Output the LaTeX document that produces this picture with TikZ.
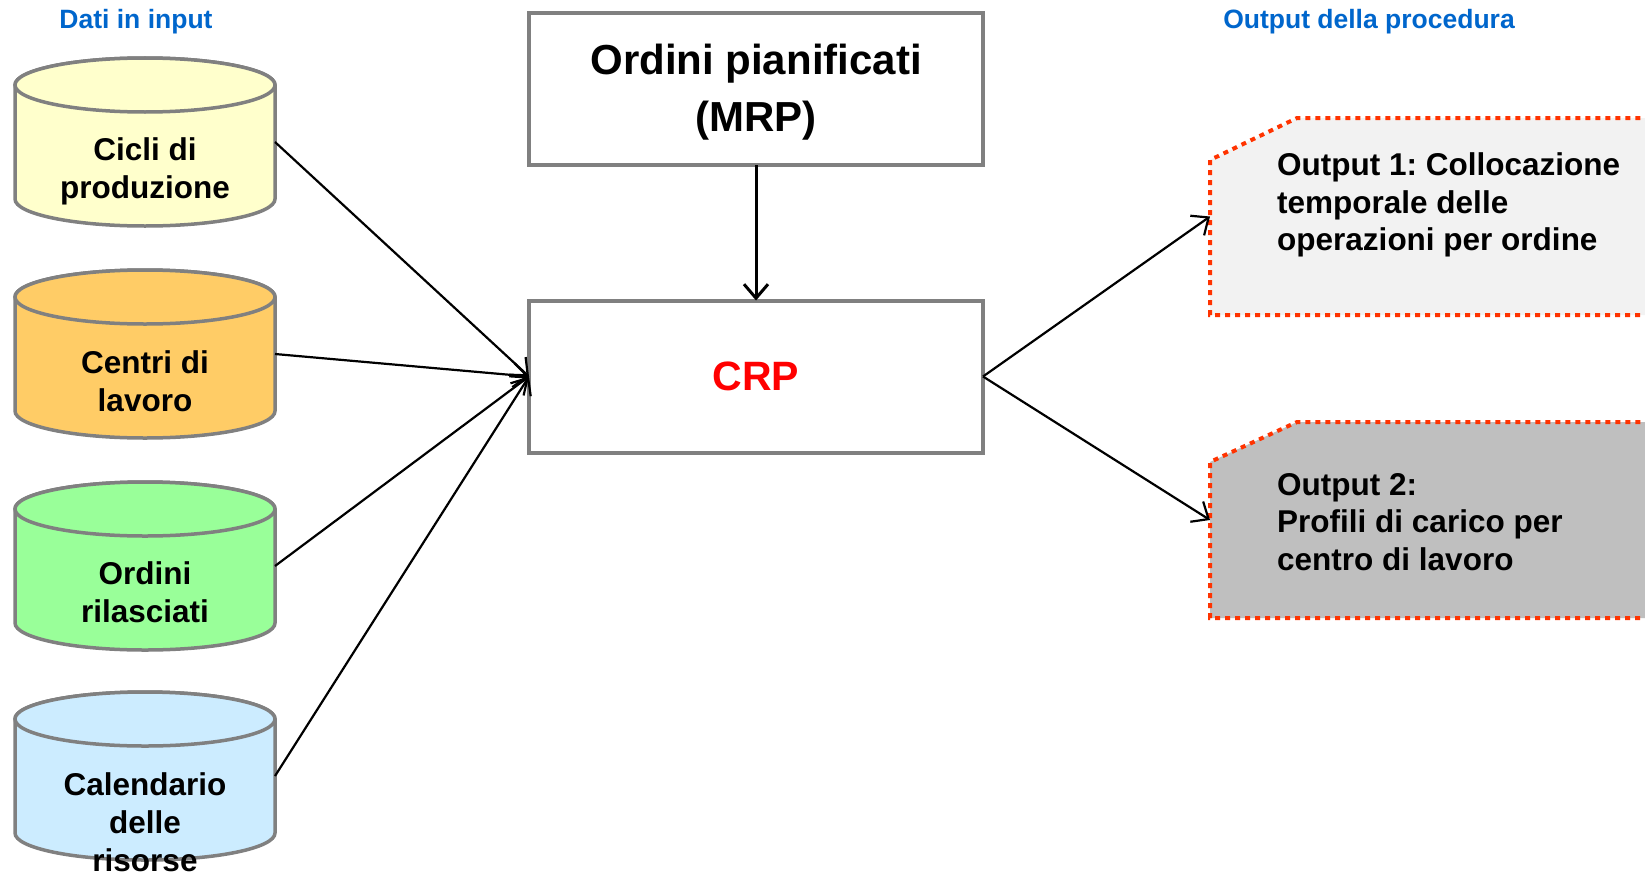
\documentclass[tikz,border=0pt]{standalone}
\usepackage{fontspec}
\setmainfont{Liberation Sans}
\usetikzlibrary{arrows.meta}
\frenchspacing
\definecolor{cylgray}{RGB}{128,128,128}
\definecolor{cylA}{RGB}{255,255,204}
\definecolor{cylB}{RGB}{255,204,102}
\definecolor{cylC}{RGB}{153,255,153}
\definecolor{cylD}{RGB}{204,236,255}
\definecolor{hdrblue}{RGB}{0,102,204}
\definecolor{outred}{RGB}{255,51,0}
\definecolor{outA}{RGB}{242,242,242}
\definecolor{outB}{RGB}{191,191,191}
\definecolor{crpred}{RGB}{255,0,0}
\tikzset{
  cyl/.style={draw=cylgray, line width=3.5pt},
  cylnode/.style={draw=none, minimum width=260pt, minimum height=168pt, inner sep=0pt, outer sep=0pt},
  lbl/.style={font=\bfseries\fontsize{31.5}{38}\selectfont, align=center, inner sep=0pt},
  outlbl/.style={font=\bfseries\fontsize{31.5}{37.5}\selectfont, align=left, inner sep=0pt, anchor=west},
  hdr/.style={font=\bfseries\fontsize{26.5}{30}\selectfont, text=hdrblue, inner sep=0pt},
  procbox/.style={draw=cylgray, line width=4pt, fill=white, minimum width=454pt, minimum height=152pt, inner sep=0pt, outer sep=0pt},
  outborder/.style={draw=outred, line width=4pt, dash pattern=on 5pt off 5pt},
  outnode/.style={draw=none, minimum width=435pt, minimum height=197pt, inner sep=0pt, outer sep=0pt, anchor=west},
  conn/.style={black, line width=2.2pt, -{Straight Barb[length=14pt,width=24pt]}},
}
\begin{document}
\begin{tikzpicture}[x=1pt,y=-1pt]
\useasboundingbox (0,0) rectangle (1645,875);
\fill[white] (0,0) rectangle (1645,875);

% headers
\node[hdr] (h1) at (136,22) {Dati in input};
\node[hdr] (h2) at (1369,22) {Output della procedura};

% cylinders
\draw[cyl, fill=cylA] (15,85) -- (15,199) arc[start angle=180,end angle=360,x radius=130pt,y radius=27pt] -- (275,85) arc[start angle=0,end angle=180,x radius=130pt,y radius=27pt] -- cycle;
\draw[cyl, fill=cylA] (145,85) ellipse[x radius=130pt,y radius=27pt];
\node[cylnode] (c1) at (145,142) {};
\node[lbl] (c1t) at (145,171) {Cicli di\\produzione};

\draw[cyl, fill=cylB] (15,297) -- (15,411) arc[start angle=180,end angle=360,x radius=130pt,y radius=27pt] -- (275,297) arc[start angle=0,end angle=180,x radius=130pt,y radius=27pt] -- cycle;
\draw[cyl, fill=cylB] (145,297) ellipse[x radius=130pt,y radius=27pt];
\node[cylnode] (c2) at (145,354) {};
\node[lbl] (c2t) at (145,381) {Centri di\\lavoro};

\draw[cyl, fill=cylC] (15,509) -- (15,623) arc[start angle=180,end angle=360,x radius=130pt,y radius=27pt] -- (275,509) arc[start angle=0,end angle=180,x radius=130pt,y radius=27pt] -- cycle;
\draw[cyl, fill=cylC] (145,509) ellipse[x radius=130pt,y radius=27pt];
\node[cylnode] (c3) at (145,566) {};
\node[lbl] (c3t) at (145,592) {Ordini\\rilasciati};

\draw[cyl, fill=cylD] (15,719) -- (15,833) arc[start angle=180,end angle=360,x radius=130pt,y radius=27pt] -- (275,719) arc[start angle=0,end angle=180,x radius=130pt,y radius=27pt] -- cycle;
\draw[cyl, fill=cylD] (145,719) ellipse[x radius=130pt,y radius=27pt];
\node[cylnode] (c4) at (145,776) {};
\node[lbl] (c4t) at (145,822) {Calendario\\delle\\risorse};

% process boxes
\node[procbox] (mrp) at (756,89) {};
\node[font=\bfseries\fontsize{42}{57}\selectfont, align=center, inner sep=0pt] (mrpt) at (756,92) {Ordini pianificati\\(MRP)};
\node[procbox, font=\bfseries\fontsize{41}{48}\selectfont, text=crpred] (crp) at (756,376.5) {CRP};

% output boxes
\fill[outA] (1660,315) -- (1210,315) -- (1210,160) -- (1297,118) -- (1660,118) -- cycle;
\draw[outborder] (1660,315) -- (1210,315) -- (1210,160) -- (1297,118) -- (1660,118);
\node[outnode] (o1) at (1210,216.5) {};
\node[outlbl] (o1t) at (1277,205) {Output 1: Collocazione\\temporale delle\\operazioni per ordine};

\fill[outB] (1660,618) -- (1210,618) -- (1210,462) -- (1297,422) -- (1660,422) -- cycle;
\draw[outborder] (1660,618) -- (1210,618) -- (1210,462) -- (1297,422) -- (1660,422);
\node[outnode] (o2) at (1210,520) {};
\node[outlbl] (o2t) at (1277,522) {Output 2:\\Profili di carico per\\centro di lavoro};

% connectors
\draw[conn, line width=3pt] (mrp.south) -- (crp.north);
\draw[conn] (c1.east) -- (crp.west);
\draw[conn] (c2.east) -- (crp.west);
\draw[conn] (c3.east) -- (crp.west);
\draw[conn] (c4.east) -- (crp.west);
\draw[conn] (crp.east) -- (o1.west);
\draw[conn] (crp.east) -- (o2.west);
\end{tikzpicture}
\end{document}
